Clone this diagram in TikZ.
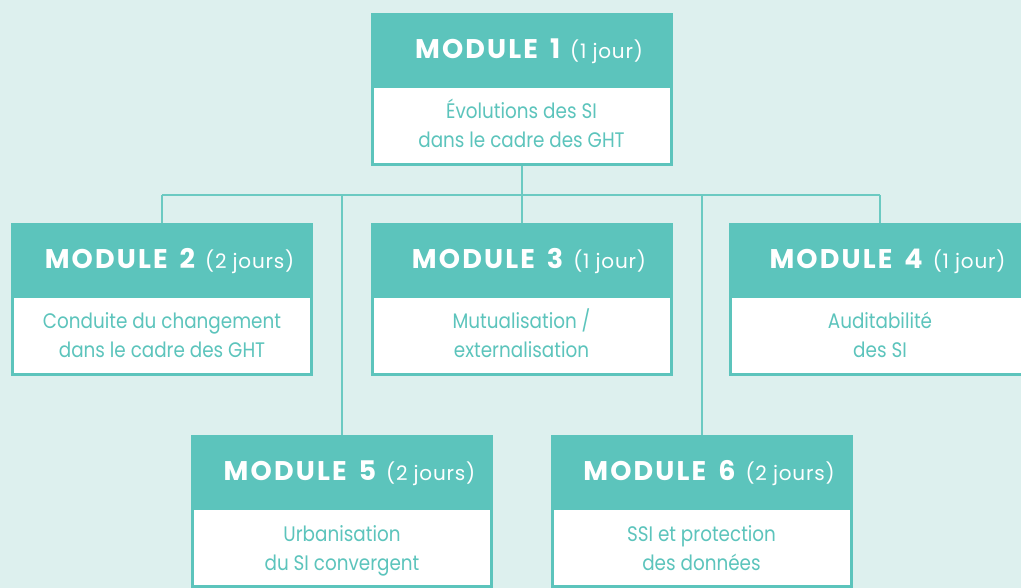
\documentclass[tikz,border=0pt]{standalone}
\usepackage{fontspec}
\setmainfont{Poppins}
\newfontfamily\hboldf{Poppins}[LetterSpace=8]
\newfontfamily\hregf{Poppins}[LetterSpace=4]
\newfontfamily\bodyf{Poppins}[FakeStretch=0.875]
\usetikzlibrary{backgrounds}
\definecolor{bgc}{HTML}{DDF0EE}
\definecolor{mteal}{HTML}{5CC4BC}
\definecolor{mline}{HTML}{6BCAC2}
\newcommand\mhead[2]{\hspace*{15pt}{\hboldf\bfseries\fontsize{27}{27}\selectfont MODULE\hspace{12pt}#1}\hspace{10pt}{\hregf\fontsize{20}{20}\selectfont (#2)}}
\newcommand\modbox[7]{%
  \node[hdr, anchor=north] (#1h) at (#2,#3) {\mhead{#4}{#5}};
  \node[bdy, anchor=north] (#1b) at ([yshift=-1.5pt]#1h.south) {};
  \node[btxt, anchor=base] (#1t) at ([yshift=-34pt]#1h.south) {#6};
  \node[btxt, anchor=base] (#1u) at ([yshift=-63pt]#1h.south) {#7};
}
\begin{document}
\begin{tikzpicture}[x=1pt,y=-1pt,
  hdr/.style={fill=mteal, minimum width=302pt, minimum height=72pt, inner sep=0pt, outer sep=0pt, text=white, text height=19pt, text depth=0pt},
  bdy/.style={fill=white, draw=mteal, line width=3pt, minimum width=299pt, minimum height=78pt, inner sep=0pt, outer sep=0pt},
  btxt/.style={text=mteal, inner sep=0pt, font=\bodyf\fontsize{21}{29}\selectfont},
  conn/.style={draw=mline, line width=2pt}]
\useasboundingbox (0,0) rectangle (1021,588);
\clip (0,0) rectangle (1021,588);
\modbox{m1}{521.5}{13}{1}{1 jour}{Évolutions des SI}{dans le cadre des GHT}
\modbox{m2}{162}{223}{2}{2 jours}{Conduite du changement}{dans le cadre des GHT}
\modbox{m3}{521.5}{223}{3}{1 jour}{Mutualisation /}{externalisation}
\modbox{m4}{880}{223}{4}{1 jour}{Auditabilité}{des SI}
\modbox{m5}{342}{435}{5}{2 jours}{Urbanisation}{du SI convergent}
\modbox{m6}{701.5}{435}{6}{2 jours}{SSI et protection}{des données}
\begin{pgfonlayer}{background}
  \fill[bgc] (0,0) rectangle (1021,588);
  \coordinate (bus) at (521.5,195);
  \draw[conn] (m1b.south) -- (bus);
  \draw[conn] (m2h.north |- bus) -- (m4h.north |- bus);
  \draw[conn] (m2h.north |- bus) -- (m2h.north);
  \draw[conn] (m3h.north |- bus) -- (m3h.north);
  \draw[conn] (m4h.north |- bus) -- (m4h.north);
  \draw[conn] (m5h.north |- bus) -- (m5h.north);
  \draw[conn] (m6h.north |- bus) -- (m6h.north);
\end{pgfonlayer}
\end{tikzpicture}
\end{document}
